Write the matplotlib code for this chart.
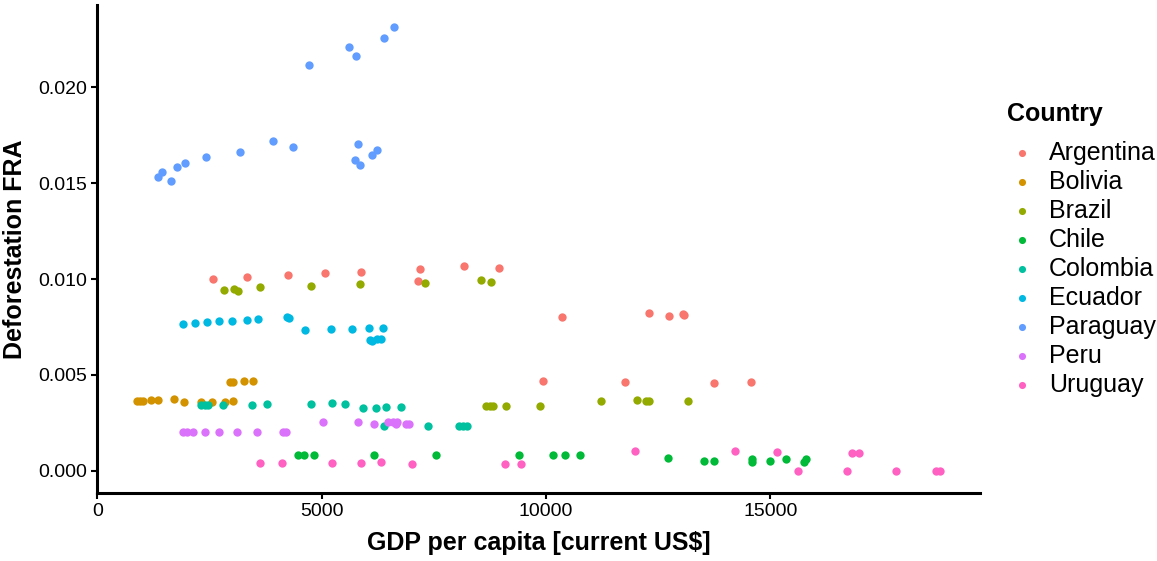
import numpy as np
import matplotlib.pyplot as plt

plt.rcParams['font.family'] = ['Liberation Sans', 'DejaVu Sans']

# GDP per capita [current US$] and deforestation (FRA)
argentina_gdp = [2581, 3331, 4250, 5073, 5882, 7150, 7195, 8167, 8953, 9940, 10354,
                 11764, 12298, 12750, 13060, 13070, 13745, 14568]
argentina_def = [0.00998, 0.01009, 0.01019, 0.01030, 0.01038, 0.00990, 0.01050, 0.01069,
                 0.01059, 0.00469, 0.00800, 0.00465, 0.00825, 0.00807, 0.00818, 0.00810,
                 0.00460, 0.00465]

bolivia_gdp = [890, 950, 1024, 1209, 1357, 1706, 1929, 2307, 2566, 2855, 3026, 2967, 3020,
               3278, 3471]
bolivia_def = [0.00363, 0.00363, 0.00366, 0.00368, 0.00370, 0.00373, 0.00358, 0.00359,
               0.00359, 0.00361, 0.00363, 0.00464, 0.00465, 0.00469, 0.00470]

brazil_gdp = [2819, 3048, 3145, 3620, 4769, 5852, 7306, 8545, 8776, 8656, 8745, 8819,
              9101, 9864, 11215, 12031, 12216, 12290, 13164]
brazil_def = [0.00943, 0.00950, 0.00936, 0.00957, 0.00965, 0.00972, 0.00979, 0.00995,
              0.00986, 0.00337, 0.00337, 0.00340, 0.00339, 0.00337, 0.00365, 0.00368,
              0.00366, 0.00366, 0.00365]

chile_gdp = [4465, 4600, 4822, 6171, 7543, 9390, 10154, 10429, 10748, 12728, 13529,
             13745, 14590, 14597, 14998, 15354, 15747, 15783]
chile_def = [0.00085, 0.00085, 0.00085, 0.00085, 0.00085, 0.00085, 0.00083, 0.00083,
             0.00083, 0.00066, 0.00052, 0.00052, 0.00063, 0.00047, 0.00050, 0.00063,
             0.00048, 0.00063]

colombia_gdp = [2307, 2403, 2477, 2811, 3442, 3783, 4755, 5237, 5512, 5927, 6216, 6431,
                6765, 6379, 7360, 8062, 8151, 8240]
colombia_def = [0.00344, 0.00342, 0.00342, 0.00345, 0.00345, 0.00347, 0.00347, 0.00351,
                0.00349, 0.00330, 0.00330, 0.00332, 0.00332, 0.00233, 0.00234, 0.00234,
                0.00234, 0.00234]

ecuador_gdp = [1914, 2188, 2441, 2708, 3011, 3338, 3576, 4220, 4265, 4636, 5200, 5667,
               6046, 6364, 6068, 6119, 6231, 6313]
ecuador_def = [0.00767, 0.00772, 0.00776, 0.00779, 0.00783, 0.00788, 0.00792, 0.00803,
               0.00797, 0.00736, 0.00738, 0.00741, 0.00743, 0.00745, 0.00682, 0.00679,
               0.00688, 0.00688]

paraguay_gdp = [6616, 6394, 5607, 5763, 4718, 3916, 4354, 3189, 2425, 1958, 1780, 1446,
                1365, 1639, 5800, 6231, 6119, 5748, 5852]
paraguay_def = [0.02313, 0.02259, 0.02210, 0.02161, 0.02116, 0.01717, 0.01689, 0.01660,
                0.01634, 0.01606, 0.01582, 0.01557, 0.01533, 0.01509, 0.01705, 0.01675,
                0.01647, 0.01620, 0.01594]

peru_gdp = [1921, 2003, 2130, 2396, 2708, 3122, 3567, 4130, 4200, 5036, 5815, 6157, 6468,
            6601, 6676, 6660, 6876, 6950]
peru_def = [0.00200, 0.00200, 0.00200, 0.00200, 0.00200, 0.00200, 0.00200, 0.00200,
            0.00200, 0.00252, 0.00254, 0.00243, 0.00254, 0.00255, 0.00254, 0.00243,
            0.00245, 0.00245]

uruguay_gdp = [3634, 4124, 5229, 5882, 6320, 7016, 9079, 9441, 11982, 14219, 15154,
               15606, 16712, 16823, 16963, 17801, 18692, 18774]
uruguay_def = [0.00042, 0.00042, 0.00040, 0.00040, 0.00045, 0.00038, 0.00038, 0.00036,
               0.00104, 0.00101, 0.00099, 0.00000, 0.00000, 0.00095, 0.00095, 0.00000,
               0.00000, 0.00000]

countries = ['Argentina', 'Bolivia', 'Brazil', 'Chile', 'Colombia', 'Ecuador',
             'Paraguay', 'Peru', 'Uruguay']
gdp = [argentina_gdp, bolivia_gdp, brazil_gdp, chile_gdp, colombia_gdp, ecuador_gdp,
       paraguay_gdp, peru_gdp, uruguay_gdp]
defo = [argentina_def, bolivia_def, brazil_def, chile_def, colombia_def, ecuador_def,
        paraguay_def, peru_def, uruguay_def]

# ggplot hue palette
colors = ['#F8766D', '#D39200', '#93AA00', '#00BA38', '#00C19F', '#00B9E3',
          '#619CFF', '#DB72FB', '#FF61C3']

fig = plt.figure(figsize=(11.57, 5.61), dpi=100)
ax = fig.add_axes([97 / 1157, 68 / 561, 883 / 1157, 488 / 561])

for name, x, y, c in zip(countries, gdp, defo, colors):
    ax.scatter(x, y, s=36, color=c, label=name, linewidths=0)

ax.margins(0.05)
ax.set_xticks([0, 5000, 10000, 15000])
ax.set_yticks([0.000, 0.005, 0.010, 0.015, 0.020])
ax.set_yticklabels(['0.000', '0.005', '0.010', '0.015', '0.020'])

for s in ['top', 'right']:
    ax.spines[s].set_visible(False)
for s in ['left', 'bottom']:
    ax.spines[s].set_linewidth(2.2)
ax.tick_params(direction='out', length=4, width=1.5, labelsize=14, colors='black', pad=3)

ax.set_xlabel('GDP per capita [current US$]', fontsize=18, fontweight='bold', labelpad=8)
ax.set_ylabel('Deforestation FRA', fontsize=18, fontweight='bold', labelpad=8)

leg = fig.legend(loc='upper left', bbox_to_anchor=(984 / 1157, 1 - 79 / 561),
                 title='Country', frameon=False, fontsize=18, markerscale=0.85,
                 handlelength=1.2, handletextpad=0.5, labelspacing=0.2,
                 alignment='left',
                 title_fontproperties={'weight': 'bold', 'size': 18})
leg._legend_box.sep = 11  # more room between title and entries, like ggplot

fig.savefig('out.png', dpi=100)
